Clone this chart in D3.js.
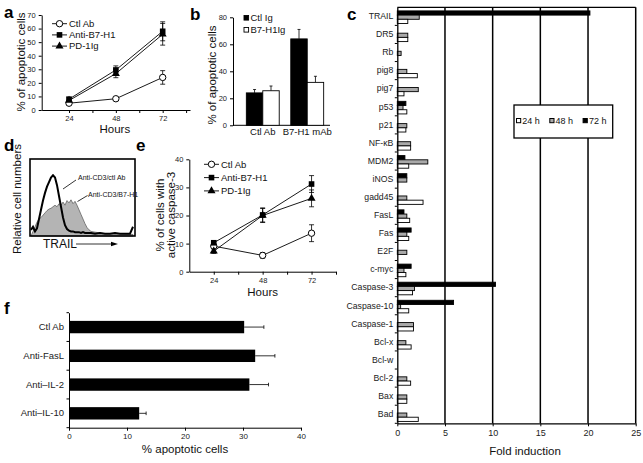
<!DOCTYPE html>
<html><head><meta charset="utf-8">
<script src="https://cdn.jsdelivr.net/npm/d3@7"></script>
<style>
html,body{margin:0;padding:0;background:#fff;}
svg{display:block;font-family:"Liberation Sans",Arial,Helvetica,sans-serif;}
</style></head>
<body>
<svg id="fig" width="643" height="463"></svg>
<script>
// ---------- DATA ----------
// Panel a
const aHours = [24, 48, 72];
const aSeries = ["Ctl Ab", "Anti-B7-H1", "PD-1Ig"];
const aCtl = [5, 8.3, 24];
const aCtlErr = [0.8, 1, 5];
const aB7 = [8, 29.5, 58];
const aB7Err = [1, 3, 7];
const aPD = [7, 26.8, 55.8];
const aPDErr = [1, 3, 8];
const aYTicks = [0, 10, 20, 30, 40, 50, 60, 70];
const aXTicks = [24, 36, 48, 60, 72, 84];
const aXLabels = [24, 48, 72];

// Panel b
const bGroups = ["Ctl Ab", "B7-H1 mAb"];
const bSeries = ["Ctl Ig", "B7-H1Ig"];
const bCtlIg = [24, 64];
const bCtlIgErr = [2.5, 7];
const bB7Ig = [25.6, 31.8];
const bB7IgErr = [3.5, 4.5];
const bYTicks = [0, 20, 40, 60, 80];

// Panel c
const cGenes = ["TRAIL","DR5","Rb","pig8","pig7","p53","p21","NF-\u03BAB","MDM2","iNOS","gadd45","FasL","Fas","E2F","c-myc","Caspase-3","Caspase-10","Caspase-1","Bcl-x","Bcl-w","Bcl-2","Bax","Bad"];
const cTimes = ["72 h", "48 h", "24 h"];
const c72 = [20.2, 0, 0, 0, 0, 0.9, 0, 0, 0.8, 1.0, 0, 0.7, 1.45, 0, 1.45, 10.3, 5.9, 0, 0, 0, 0, 0, 0];
const c48 = [2.3, 1.1, 0.4, 1.0, 2.2, 0.6, 1.0, 1.4, 3.2, 1.0, 1.0, 1.0, 1.0, 1.0, 0.7, 1.8, 0.35, 1.7, 0.9, 0, 1.0, 1.0, 1.0];
const c24 = [1.1, 1.1, 0, 2.1, 0.7, 1.0, 0.9, 1.4, 1.2, 0, 2.7, 1.3, 1.2, 0, 0.9, 1.6, 1.2, 1.7, 1.45, 0, 1.4, 1.0, 2.2];
const cXTicks = [0, 5, 10, 15, 20, 25];
const cLegend = ["24 h", "48 h", "72 h"];

// Panel d (flow histogram)
const dChannel = [0, 2, 4, 6, 8, 10, 12, 14, 16, 18, 20, 22, 24, 26, 28, 30, 32, 34, 36, 38, 40, 42, 44, 46, 48, 50, 52, 54, 56, 58, 60, 64, 69, 74, 79, 84, 89, 94, 99, 102];
const dCtlAb = [8, 12, 6, 10, 22, 34, 46, 56, 64, 70, 76, 79, 76, 66, 52, 38, 24, 14, 9, 7, 6, 6, 5, 5, 5, 4, 5, 4, 4, 4, 4, 3, 4, 3, 3, 4, 3, 3, 3, 12];
const dB7H1 = [0, 6, 12, 18, 22, 24, 27, 30, 33, 35, 36, 38, 40, 38, 42, 40, 44, 40, 46, 43, 47, 42, 45, 40, 34, 28, 22, 16, 11, 8, 6, 5, 4, 3, 3, 3, 3, 2, 2, 2];
const dLabels = ["Anti-CD3/ctl Ab", "Anti-CD3/B7-H1"];

// Panel e
const eHours = [24, 48, 72];
const eCtl = [9.1, 5.8, 13.7];
const eCtlErr = [0.8, 1, 3];
const eB7 = [10.3, 20.2, 31.2];
const eB7Err = [0.8, 2.5, 3];
const ePD = [7.3, 20, 26.1];
const ePDErr = [0.8, 2.5, 3];
const eYTicks = [0, 10, 20, 30, 40];
const eXTicks = [24, 36, 48, 60, 72, 84];
const eXLabels = [24, 48, 72];

// Panel f
const fGroups = ["Ctl Ab", "Anti-FasL", "Anti\u2013IL-2", "Anti\u2013IL-10"];
const fValues = [30.2, 32.1, 31.1, 12.1];
const fErr = [3.4, 3.4, 3.3, 1.2];
const fXTicks = [0, 10, 20, 30, 40];

// ---------- DRAWING ----------
const svg = d3.select("#fig");
svg.append("rect").attr("width", 643).attr("height", 463).attr("fill", "#fff");
const FONT = '"Liberation Sans",Arial,Helvetica,sans-serif';

function letter(t, x, y) {
  svg.append("text").attr("x", x).attr("y", y).text(t)
    .attr("font-size", 17).attr("font-weight", "bold").attr("fill", "#000");
}
function styleAxis(g, fs) {
  g.selectAll("path").attr("stroke", "#000").attr("stroke-width", 1);
  g.selectAll("line").attr("stroke", "#000").attr("stroke-width", 1);
  g.selectAll("text").attr("font-size", fs).attr("font-family", FONT).attr("fill", "#222");
}
function marker(g, type, x, y) {
  if (type === 0) {
    g.append("circle").attr("cx", x).attr("cy", y).attr("r", 3.2)
      .attr("fill", "#fff").attr("stroke", "#000").attr("stroke-width", 1);
  } else if (type === 1) {
    g.append("rect").attr("x", x - 2.8).attr("y", y - 2.8).attr("width", 5.6).attr("height", 5.6).attr("fill", "#000");
  } else {
    g.append("path").attr("d", d3.symbol().type(d3.symbolTriangle).size(28)())
      .attr("transform", `translate(${x},${y})`).attr("fill", "#000");
  }
}
function errBar(g, x, y0, y1, cap) {
  g.append("line").attr("x1", x).attr("x2", x).attr("y1", y0).attr("y2", y1).attr("stroke", "#000").attr("stroke-width", 0.8);
  g.append("line").attr("x1", x - cap).attr("x2", x + cap).attr("y1", y1).attr("y2", y1).attr("stroke", "#000").attr("stroke-width", 0.8);
}

function linePanel(opts) {
  const g = svg.append("g");
  const x = d3.scaleLinear().domain(opts.xDom).range(opts.xRange);
  const y = d3.scaleLinear().domain(opts.yDom).range(opts.yRange);
  const ax = g.append("g").attr("transform", `translate(0,${opts.yRange[0]})`)
    .call(d3.axisBottom(x).tickValues(opts.xTicks).tickSize(3).tickSizeOuter(0).tickPadding(3)
      .tickFormat(d => opts.xLabels.includes(d) ? d : ""));
  styleAxis(ax, 7.5);
  const ay = g.append("g").attr("transform", `translate(${opts.xRange[0]},0)`)
    .call(d3.axisLeft(y).tickValues(opts.yTicks).tickSize(3).tickSizeOuter(0));
  styleAxis(ay, 7.5);
  const series = opts.series;
  series.forEach((s) => {
    const line = d3.line().x((d, k) => x(opts.hours[k])).y(d => y(d));
    g.append("path").attr("d", line(s.v)).attr("fill", "none").attr("stroke", "#000").attr("stroke-width", 0.9);
  });
  series.forEach((s) => {
    s.v.forEach((v, k) => {
      const cx = x(opts.hours[k]);
      errBar(g, cx, y(v), y(v + s.e[k]), 2.5);
      errBar(g, cx, y(v), y(Math.max(0, v - s.e[k])), 2.5);
    });
  });
  series.forEach((s, i) => {
    s.v.forEach((v, k) => marker(g, i, x(opts.hours[k]), y(v)));
  });
  // legend
  opts.names.forEach((n, i) => {
    const ly = opts.legY + i * opts.legStep;
    g.append("line").attr("x1", opts.legX).attr("x2", opts.legX + 15).attr("y1", ly).attr("y2", ly).attr("stroke", "#000").attr("stroke-width", 0.9);
    marker(g, i, opts.legX + 7.5, ly);
    g.append("text").attr("x", opts.legX + 17).attr("y", ly + 3.3).text(n).attr("font-size", 9.5).attr("fill", "#111");
  });
  g.append("text").attr("x", (opts.xRange[0] + opts.xRange[1]) / 2 + opts.hoursDx).attr("y", opts.hoursY).attr("text-anchor", "middle")
    .text("Hours").attr("font-size", 11.5).attr("fill", "#111");
  return g;
}

// Panel a
letter("a", 4, 18);
const ga = linePanel({
  xDom: [10, 86], xRange: [41.7, 190], yDom: [0, 70], yRange: [110, 15],
  xTicks: aXTicks, xLabels: aXLabels, yTicks: aYTicks, hours: aHours,
  series: [{v: aCtl, e: aCtlErr}, {v: aB7, e: aB7Err}, {v: aPD, e: aPDErr}],
  names: aSeries, legX: 52, legY: 23.7, legStep: 11.2, hoursDx: -1, hoursY: 133
});
ga.append("text").attr("transform", "translate(25,62) rotate(-90)").attr("text-anchor", "middle")
  .text("% of apoptotic cells").attr("font-size", 11.5).attr("fill", "#111");

// Panel b
letter("b", 190, 20);
{
  const g = svg.append("g");
  const x0 = d3.scaleBand().domain(bGroups).range([241, 329]).paddingInner(0.26).paddingOuter(0.12);
  const x1 = d3.scaleBand().domain(bSeries).range([0, x0.bandwidth()]);
  const y = d3.scaleLinear().domain([0, 80]).range([125.3, 17.3]);
  const ay = g.append("g").attr("transform", "translate(233,0)")
    .call(d3.axisLeft(y).tickValues(bYTicks).tickSize(3).tickSizeOuter(0));
  styleAxis(ay, 7.5);
  g.append("line").attr("x1", 233).attr("x2", 330).attr("y1", 125.3).attr("y2", 125.3).attr("stroke", "#000");
  const vals = [bCtlIg, bB7Ig], errs = [bCtlIgErr, bB7IgErr];
  bSeries.forEach((s, si) => {
    bGroups.forEach((grp, gi) => {
      const bx = x0(grp) + x1(s);
      const v = vals[si][gi];
      errBar(g, bx + x1.bandwidth() / 2, y(v), y(v + errs[si][gi]), 1.5);
      g.append("rect").attr("x", bx).attr("y", y(v)).attr("width", x1.bandwidth()).attr("height", y(0) - y(v))
        .attr("fill", si === 0 ? "#000" : "#fff").attr("stroke", "#000").attr("stroke-width", 0.9);
    });
  });
  bGroups.forEach(grp => {
    g.append("text").attr("x", x0(grp) + x0.bandwidth() / 2).attr("y", 134.5).attr("text-anchor", "middle")
      .text(grp).attr("font-size", 9.5).attr("fill", "#111");
  });
  bSeries.forEach((s, i) => {
    g.append("rect").attr("x", 244).attr("y", 15.5 + i * 12).attr("width", 4.6).attr("height", 4.6)
      .attr("fill", i === 0 ? "#000" : "#fff").attr("stroke", "#000").attr("stroke-width", 0.9);
    g.append("text").attr("x", 250.5).attr("y", 21 + i * 12).text(s).attr("font-size", 9.5).attr("fill", "#111");
  });
  g.append("text").attr("transform", "translate(216,75) rotate(-90)").attr("text-anchor", "middle")
    .text("% of apoptotic cells").attr("font-size", 11.5).attr("fill", "#111");
}

// Panel c
letter("c", 347, 20);
{
  const g = svg.append("g");
  const x = d3.scaleLinear().domain([0, 25]).range([397.3, 635.7]);
  const y = d3.scaleBand().domain(cGenes).range([7.3, 423.3]);
  const yi = d3.scaleBand().domain(cTimes).range([3.6, 16.2]);
  cXTicks.slice(1).forEach(t => {
    g.append("line").attr("x1", x(t)).attr("x2", x(t)).attr("y1", 7.3).attr("y2", 423.3).attr("stroke", "#000").attr("stroke-width", 1.5);
  });
  g.append("line").attr("x1", x(0)).attr("x2", x(25)).attr("y1", 7.3).attr("y2", 7.3).attr("stroke", "#000").attr("stroke-width", 1.3);
  const vals = {"72 h": c72, "48 h": c48, "24 h": c24};
  const fills = {"72 h": "#000", "48 h": "#a9a9a9", "24 h": "#fff"};
  cGenes.forEach((gn, i) => {
    cTimes.forEach(t => {
      const v = vals[t][i];
      if (v > 0) {
        g.append("rect").attr("x", x(0)).attr("y", y(gn) + yi(t)).attr("width", x(v) - x(0)).attr("height", yi.bandwidth())
          .attr("fill", fills[t]).attr("stroke", "#000").attr("stroke-width", 0.9);
      }
    });
  });
  const ax = g.append("g").attr("transform", "translate(0,423.3)")
    .call(d3.axisBottom(x).tickValues(cXTicks).tickSize(3).tickSizeOuter(0));
  styleAxis(ax, 9);
  ax.select("path").attr("stroke-width", 1.3);
  const ay = g.append("g").attr("transform", `translate(${x(0)},0)`)
    .call(d3.axisLeft(y).tickSize(0).tickPadding(4));
  styleAxis(ay, 8.7);
  ay.select("path").attr("stroke-width", 1.3);
  cGenes.forEach(gn => {
    g.append("line").attr("x1", x(0) - 2.5).attr("x2", x(0)).attr("y1", y(gn) + y.bandwidth()).attr("y2", y(gn) + y.bandwidth()).attr("stroke", "#000");
  });
  g.append("text").attr("x", 525).attr("y", 454.5).attr("text-anchor", "middle").text("Fold induction").attr("font-size", 11.5).attr("fill", "#111");
  g.append("rect").attr("x", 514).attr("y", 105).attr("width", 98.7).attr("height", 33).attr("fill", "#fff").attr("stroke", "#000").attr("stroke-width", 1.3);
  const lf = ["#fff", "#a9a9a9", "#000"];
  cLegend.forEach((l, i) => {
    const lx = 516.5 + i * 33.3;
    g.append("rect").attr("x", lx).attr("y", 118.5).attr("width", 4.2).attr("height", 4.2).attr("fill", lf[i]).attr("stroke", "#000").attr("stroke-width", 1);
    g.append("text").attr("x", lx + 5.8).attr("y", 123.5).text(l).attr("font-size", 9).attr("fill", "#111");
  });
}

// Panel d
letter("d", 4, 151);
{
  const g = svg.append("g");
  const x = d3.scaleLinear().domain([0, 104]).range([31, 135]);
  const y = d3.scaleLinear().domain([0, 100]).range([236, 159]);
  const area = d3.area().x((d, i) => x(dChannel[i])).y0(y(0)).y1(d => y(d));
  g.append("path").attr("d", area(dB7H1)).attr("fill", "#b4b4b4").attr("stroke", "#555").attr("stroke-width", 0.7);
  const line = d3.line().x((d, i) => x(dChannel[i])).y(d => y(d));
  g.append("path").attr("d", line(dCtlAb)).attr("fill", "none").attr("stroke", "#000").attr("stroke-width", 2);
  g.append("rect").attr("x", 30).attr("y", 159).attr("width", 105).attr("height", 77).attr("fill", "none").attr("stroke", "#000").attr("stroke-width", 1.6);
  g.append("text").attr("x", 78).attr("y", 180).text(dLabels[0]).attr("font-size", 7).attr("fill", "#111");
  g.append("text").attr("x", 88).attr("y", 196.5).text(dLabels[1]).attr("font-size", 7).attr("fill", "#111");
  g.append("line").attr("x1", 76).attr("y1", 180).attr("x2", 63).attr("y2", 189).attr("stroke", "#000").attr("stroke-width", 0.8);
  g.append("line").attr("x1", 87.5).attr("y1", 195.5).attr("x2", 77.5).attr("y2", 201.5).attr("stroke", "#000").attr("stroke-width", 0.8);
  g.append("text").attr("x", 43).attr("y", 248).text("TRAIL").attr("font-size", 12).attr("fill", "#111");
  g.append("line").attr("x1", 76).attr("x2", 114).attr("y1", 244).attr("y2", 244).attr("stroke", "#000").attr("stroke-width", 0.8);
  g.append("path").attr("d", "M118,244 L111,241.8 L111,246.2 Z").attr("fill", "#000");
  g.append("text").attr("transform", "translate(21,199) rotate(-90)").attr("text-anchor", "middle")
    .text("Relative cell numbers").attr("font-size", 11.5).attr("fill", "#111");
}

// Panel e
letter("e", 136, 151);
{
  const g = linePanel({
    xDom: [12, 84], xRange: [189.3, 336], yDom: [0, 40], yRange: [271.7, 159.3],
    xTicks: eXTicks, xLabels: eXLabels, yTicks: eYTicks, hours: eHours,
    series: [{v: eCtl, e: eCtlErr}, {v: eB7, e: eB7Err}, {v: ePD, e: ePDErr}],
    names: aSeries, legX: 204, legY: 164.3, legStep: 13.3, hoursDx: 0, hoursY: 296
  });
  g.append("text").attr("transform", "translate(164,215) rotate(-90)").attr("text-anchor", "middle")
    .text("% of cells with").attr("font-size", 11.5).attr("fill", "#111");
  g.append("text").attr("transform", "translate(175,215) rotate(-90)").attr("text-anchor", "middle")
    .text("active caspase-3").attr("font-size", 11.5).attr("fill", "#111");
}

// Panel f
letter("f", 4, 314);
{
  const g = svg.append("g");
  const x = d3.scaleLinear().domain([0, 40]).range([69, 301]);
  const y = d3.scaleBand().domain(fGroups).range([312.7, 427.7]).paddingInner(0.57).paddingOuter(0.285);
  const yb = d3.scaleBand().domain(fGroups).range([312.7, 427.7]);
  fGroups.forEach((grp, i) => {
    const cy = y(grp) + y.bandwidth() / 2;
    const v = fValues[i];
    g.append("line").attr("x1", x(v)).attr("x2", x(v + fErr[i])).attr("y1", cy).attr("y2", cy).attr("stroke", "#000").attr("stroke-width", 0.8);
    g.append("line").attr("x1", x(v + fErr[i])).attr("x2", x(v + fErr[i])).attr("y1", cy - 1.8).attr("y2", cy + 1.8).attr("stroke", "#000").attr("stroke-width", 0.8);
    g.append("rect").attr("x", x(0)).attr("y", y(grp)).attr("width", x(v) - x(0)).attr("height", y.bandwidth()).attr("fill", "#000");
  });
  const ax = g.append("g").attr("transform", "translate(0,427.7)")
    .call(d3.axisBottom(x).tickValues(fXTicks).tickSize(3).tickSizeOuter(0));
  styleAxis(ax, 8);
  const ay = g.append("g").attr("transform", "translate(69,0)")
    .call(d3.axisLeft(yb).tickSize(0).tickPadding(5));
  styleAxis(ay, 9.5);
  [312.7].concat(fGroups.map(gr => yb(gr) + yb.bandwidth())).forEach(t => {
    g.append("line").attr("x1", 66.5).attr("x2", 69).attr("y1", t).attr("y2", t).attr("stroke", "#000");
  });
  g.append("text").attr("x", 185).attr("y", 453).attr("text-anchor", "middle").text("% apoptotic cells").attr("font-size", 11.5).attr("fill", "#111");
}
</script>
</body></html>
